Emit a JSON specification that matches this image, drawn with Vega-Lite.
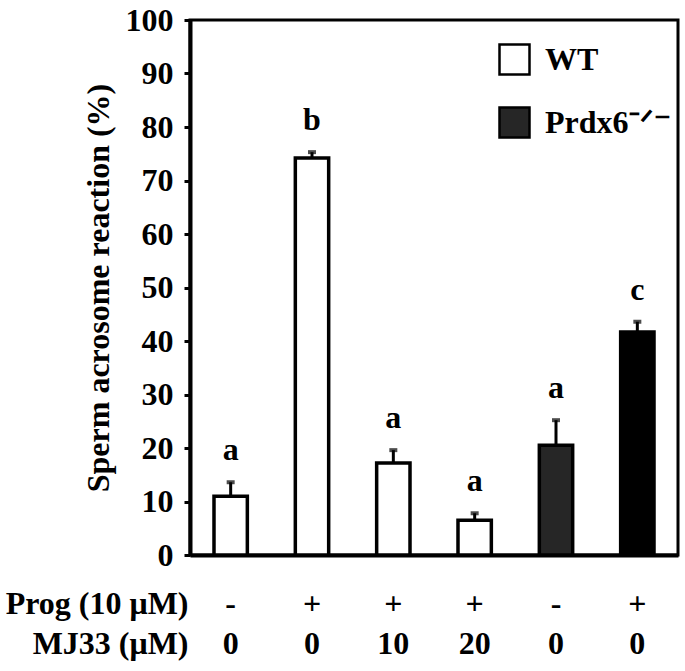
{
  "$schema": "https://vega.github.io/schema/vega-lite/v6.json",
  "autosize": {"type": "none"},
  "padding": {"left": 190, "top": 20, "right": 7, "bottom": 116},
  "width": 488,
  "height": 535,
  "background": "white",
  "config": {
    "view": {"stroke": "black", "strokeWidth": 3},
    "font": "Liberation Serif"
  },
  "data": {
    "values": [
      {"key": "1|-|0", "genotype": "WT", "prog": "-", "mj33": "0", "value": 11.0, "err": 13.6, "letter": "a"},
      {"key": "2|+|0", "genotype": "WT", "prog": "+", "mj33": "0", "value": 74.2, "err": 75.3, "letter": "b"},
      {"key": "3|+|10", "genotype": "WT", "prog": "+", "mj33": "10", "value": 17.2, "err": 19.6, "letter": "a"},
      {"key": "4|+|20", "genotype": "WT", "prog": "+", "mj33": "20", "value": 6.5, "err": 7.8, "letter": "a"},
      {"key": "5|-|0", "genotype": "Prdx6-/-", "prog": "-", "mj33": "0", "value": 20.5, "err": 25.2, "letter": "a"},
      {"key": "6|+|0", "genotype": "Prdx6-/-", "prog": "+", "mj33": "0", "value": 41.7, "err": 43.6, "letter": "c"}
    ]
  },
  "encoding": {
    "x": {
      "field": "key",
      "type": "nominal",
      "sort": null,
      "scale": {"paddingInner": 0.59, "paddingOuter": 0.295},
      "axis": {
        "title": ["Prog (10 μM)", "MJ33 (μM)"],
        "titleFont": "Liberation Serif",
        "titleFontSize": 32,
        "titleFontWeight": "bold",
        "titleColor": "black",
        "titleAlign": "right",
        "titleAnchor": "start",
        "titleX": -2,
        "titleY": 33,
        "titleBaseline": "top",
        "titleLineHeight": 40,
        "labelExpr": "slice(split(datum.value, '|'), 1)",
        "labelAngle": 0,
        "labelFont": "Liberation Serif",
        "labelFontSize": 32,
        "labelFontWeight": "bold",
        "labelColor": "black",
        "labelBaseline": "top",
        "labelLineHeight": 40,
        "labelPadding": 33,
        "ticks": false,
        "domainColor": "black",
        "domainWidth": 4
      }
    }
  },
  "layer": [
    {
      "mark": {"type": "bar", "stroke": "black", "strokeWidth": 3.5},
      "encoding": {
        "y": {
          "field": "value",
          "type": "quantitative",
          "scale": {"domain": [0, 100], "nice": false},
          "axis": {
            "title": "Sperm acrosome reaction (%)",
            "titleFont": "Liberation Serif",
            "titleFontSize": 32,
            "titleFontWeight": "bold",
            "titleColor": "black",
            "titlePadding": 10,
            "values": [0, 10, 20, 30, 40, 50, 60, 70, 80, 90, 100],
            "grid": false,
            "labelFont": "Liberation Serif",
            "labelFontSize": 32,
            "labelFontWeight": "bold",
            "labelColor": "black",
            "labelPadding": 11,
            "tickSize": 6,
            "tickWidth": 3,
            "tickColor": "black",
            "domainColor": "black",
            "domainWidth": 4
          }
        },
        "fill": {
          "condition": {"test": "datum.genotype === 'Prdx6-/-' && datum.prog === '+'", "value": "#000000"},
          "field": "genotype",
          "type": "nominal",
          "scale": {"domain": ["WT", "Prdx6-/-"], "range": ["#ffffff", "#262626"]},
          "legend": {
            "title": null,
            "orient": "none",
            "legendX": 308,
            "legendY": 23,
            "symbolType": "square",
            "symbolSize": 900,
            "symbolStrokeColor": "black",
            "symbolStrokeWidth": 2.5,
            "symbolOpacity": 1,
            "labelFont": "Liberation Serif",
            "labelFontSize": 32,
            "labelFontWeight": "bold",
            "labelColor": "black",
            "labelOffset": 14,
            "rowPadding": 22,
            "labelExpr": "datum.label === 'Prdx6-/-' ? 'Prdx6⁻ᐟ⁻' : datum.label"
          }
        }
      }
    },
    {
      "mark": {"type": "rule", "color": "black", "strokeWidth": 3},
      "encoding": {
        "y": {"field": "value", "type": "quantitative"},
        "y2": {"field": "err"}
      }
    },
    {
      "mark": {"type": "tick", "color": "black", "size": 8, "thickness": 4, "orient": "horizontal"},
      "encoding": {
        "y": {"field": "err", "type": "quantitative"}
      }
    },
    {
      "mark": {"type": "text", "font": "Liberation Serif", "fontSize": 32, "fontWeight": "bold", "color": "black", "baseline": "alphabetic", "dy": -22},
      "encoding": {
        "y": {"field": "err", "type": "quantitative"},
        "text": {"field": "letter"}
      }
    }
  ]
}
